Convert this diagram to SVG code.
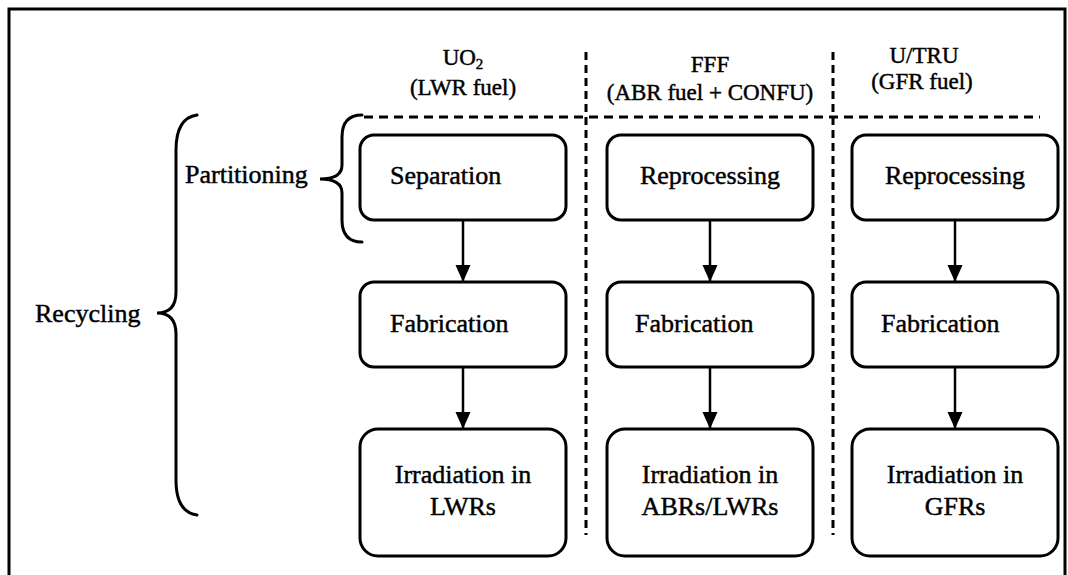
<svg xmlns="http://www.w3.org/2000/svg" width="1068" height="575" viewBox="0 0 1068 575">
  <defs>
    <style>
      .frame { fill: none; stroke: #000; stroke-width: 3; }
      .box { fill: #fff; stroke: #000; stroke-width: 3; }
      .dash { fill: none; stroke: #000; stroke-width: 3; }
      .dash-h { stroke-dasharray: 9 6; }
      .dash-v { stroke-dasharray: 8 5; }
      .brace { fill: none; stroke: #000; stroke-width: 3; stroke-linecap: round; }
      .link { fill: none; stroke: #000; stroke-width: 2.5; }
      .txt { fill: #000; stroke: #000; stroke-width: 0.45; }
      .lbl { font-size: 26px; }
      .hdr { font-size: 23px; text-anchor: middle; }
      .mid { text-anchor: middle; }
    </style>
    <marker id="arrowhead" markerUnits="userSpaceOnUse" markerWidth="18" markerHeight="16" refX="17" refY="7.5" orient="auto">
      <path d="M0,0 L17,7.5 L0,15 Z" fill="#000"/>
    </marker>
  </defs>

  <rect x="0" y="0" width="1068" height="575" fill="#fff"/>

  <!-- outer frame (open at the bottom) -->
  <path class="frame" d="M9,575 V9 H1065 V575"/>

  <!-- column separators and header rule -->
  <g id="guides">
    <line class="dash dash-h" x1="364" y1="117" x2="1040" y2="117"/>
    <line class="dash dash-v" x1="586" y1="52" x2="586" y2="535"/>
    <line class="dash dash-v" x1="833" y1="52" x2="833" y2="535"/>
  </g>

  <g class="txt" font-family="'Liberation Serif', 'DejaVu Serif', serif">
    <!-- column headings -->
    <g id="header-uo2">
      <text class="hdr" x="463" y="65">UO<tspan font-size="15" dy="4">2</tspan></text>
      <text class="hdr" x="463" y="95">(LWR fuel)</text>
    </g>
    <g id="header-fff">
      <text class="hdr" x="710" y="72">FFF</text>
      <text class="hdr" x="710" y="100">(ABR fuel + CONFU)</text>
    </g>
    <g id="header-utru">
      <text class="hdr" x="924" y="63">U/TRU</text>
      <text class="hdr" x="922" y="89">(GFR fuel)</text>
    </g>
  </g>

  <!-- grouping braces -->
  <g id="partitioning">
    <path class="brace" d="M362,115 Q342,115 342,137 V165 Q342,179 320,179 Q342,179 342,193 V220 Q342,242 362,242"/>
    <text class="txt lbl" font-family="'Liberation Serif', 'DejaVu Serif', serif" x="185" y="183">Partitioning</text>
  </g>
  <g id="recycling">
    <path class="brace" d="M197,115 Q176,118 176,150 V292 Q176,313 157,313 Q176,313 176,334 V480 Q176,512 197,515"/>
    <text class="txt lbl" font-family="'Liberation Serif', 'DejaVu Serif', serif" x="35" y="322">Recycling</text>
  </g>

  <!-- connectors -->
  <g id="connectors">
    <line class="link" x1="463" y1="220" x2="463" y2="282" marker-end="url(#arrowhead)"/>
    <line class="link" x1="463" y1="367" x2="463" y2="429" marker-end="url(#arrowhead)"/>
    <line class="link" x1="710" y1="220" x2="710" y2="282" marker-end="url(#arrowhead)"/>
    <line class="link" x1="710" y1="367" x2="710" y2="429" marker-end="url(#arrowhead)"/>
    <line class="link" x1="955" y1="220" x2="955" y2="282" marker-end="url(#arrowhead)"/>
    <line class="link" x1="955" y1="367" x2="955" y2="429" marker-end="url(#arrowhead)"/>
  </g>

  <g font-family="'Liberation Serif', 'DejaVu Serif', serif">
    <!-- UO2 column -->
    <g id="separation">
      <rect class="box" x="360" y="135" width="206" height="85" rx="14"/>
      <text class="txt lbl" x="390" y="184">Separation</text>
    </g>
    <g id="fabrication-uo2">
      <rect class="box" x="360" y="282" width="206" height="85" rx="14"/>
      <text class="txt lbl" x="390" y="332">Fabrication</text>
    </g>
    <g id="irradiation-lwr">
      <rect class="box" x="360" y="429" width="206" height="127" rx="18"/>
      <text class="txt lbl mid" x="463" y="483">Irradiation in</text>
      <text class="txt lbl mid" x="463" y="515">LWRs</text>
    </g>

    <!-- FFF column -->
    <g id="reprocessing-fff">
      <rect class="box" x="607" y="135" width="206" height="85" rx="14"/>
      <text class="txt lbl mid" x="710" y="184">Reprocessing</text>
    </g>
    <g id="fabrication-fff">
      <rect class="box" x="607" y="282" width="206" height="85" rx="14"/>
      <text class="txt lbl" x="635" y="332">Fabrication</text>
    </g>
    <g id="irradiation-abr">
      <rect class="box" x="607" y="429" width="206" height="127" rx="18"/>
      <text class="txt lbl mid" x="710" y="483">Irradiation in</text>
      <text class="txt lbl mid" x="710" y="515">ABRs/LWRs</text>
    </g>

    <!-- U/TRU column -->
    <g id="reprocessing-utru">
      <rect class="box" x="852" y="135" width="206" height="85" rx="14"/>
      <text class="txt lbl mid" x="955" y="184">Reprocessing</text>
    </g>
    <g id="fabrication-utru">
      <rect class="box" x="852" y="282" width="206" height="85" rx="14"/>
      <text class="txt lbl" x="881" y="332">Fabrication</text>
    </g>
    <g id="irradiation-gfr">
      <rect class="box" x="852" y="429" width="206" height="127" rx="18"/>
      <text class="txt lbl mid" x="955" y="483">Irradiation in</text>
      <text class="txt lbl mid" x="955" y="515">GFRs</text>
    </g>
  </g>
</svg>
